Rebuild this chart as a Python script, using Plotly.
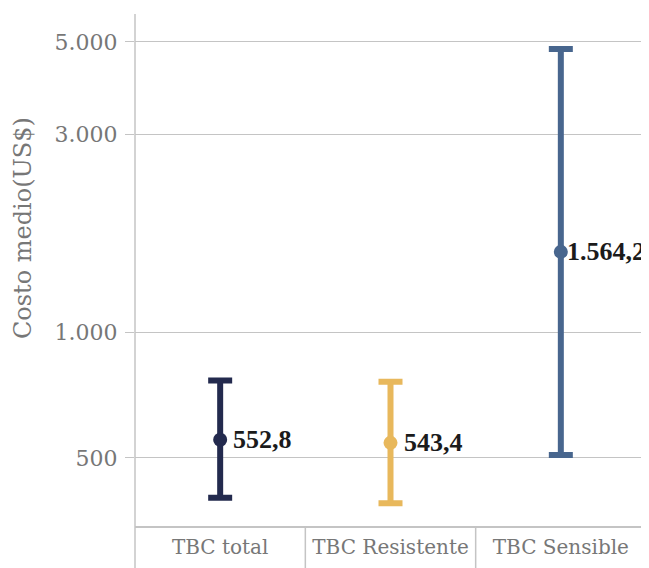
import plotly.graph_objects as go
import math

categories = ["TBC total", "TBC Resistente", "TBC Sensible"]
means = [552.8, 543.4, 1564.2]
upper = [767, 762, 4810]
lower = [401, 389, 508]
labels = ["552,8", "543,4", "1.564,2"]
colors = ["#232a4e", "#e8b85c", "#48668e"]
tick_vals = [500, 1000, 3000, 5000]
tick_text = ["500", "1.000", "3.000", "5.000"]

FONT = "DejaVu Serif"
LABEL_FONT = "Liberation Serif"
GRID = "#c4c4c4"

fig = go.Figure()
for i, c in enumerate(categories):
    fig.add_trace(go.Scatter(
        x=[c], y=[means[i]], mode="markers",
        marker=dict(color=colors[i], size=14),
        error_y=dict(type="data", symmetric=False,
                     array=[upper[i] - means[i]], arrayminus=[means[i] - lower[i]],
                     color=colors[i], thickness=6, width=12),
        showlegend=False, cliponaxis=False,
    ))
    fig.add_annotation(x=c, y=math.log10(means[i]), text=labels[i], showarrow=False,
                       xanchor="left", yanchor="middle", xshift=11 if i < 2 else 4,
                       font=dict(family=LABEL_FONT, size=26, color="#1b1b1b", weight="bold"))

fig.add_annotation(x=-0.219, y=0.582, xref="paper", yref="paper", text="Costo medio(US$)",
                   textangle=-90, showarrow=False, xanchor="center", yanchor="middle",
                   font=dict(family=FONT, size=24, color="#777777"))

bot = -42 / 512
for xv in [0, 1]:
    fig.add_shape(type="line", xref="paper", yref="paper", x0=xv, x1=xv, y0=bot, y1=1,
                  line=dict(color=GRID, width=1.5))
for xv in [1 / 3, 2 / 3]:
    fig.add_shape(type="line", xref="paper", yref="paper", x0=xv, x1=xv, y0=bot, y1=0,
                  line=dict(color=GRID, width=1.5))

fig.update_layout(
    width=641, height=560,
    margin=dict(l=127, r=3, t=6, b=42, autoexpand=False),
    paper_bgcolor="white", plot_bgcolor="white",
    font=dict(family=FONT, color="#777777"),
    xaxis=dict(type="category", range=[-0.5, 2.5], showgrid=False, showline=True,
               linecolor=GRID, linewidth=1.5, ticks="", tickfont=dict(size=20, color="#777777"),
               ticklabelstandoff=2),
    yaxis=dict(type="log", range=[math.log10(343), math.log10(5835)],
               tickvals=tick_vals, ticktext=tick_text, showgrid=True, gridcolor=GRID,
               gridwidth=1, ticks="outside", ticklen=9, tickcolor=GRID,
               tickfont=dict(size=22, color="#777777"), zeroline=False, showline=False,
               ticklabelstandoff=3),
)

fig.write_html("out.html")
